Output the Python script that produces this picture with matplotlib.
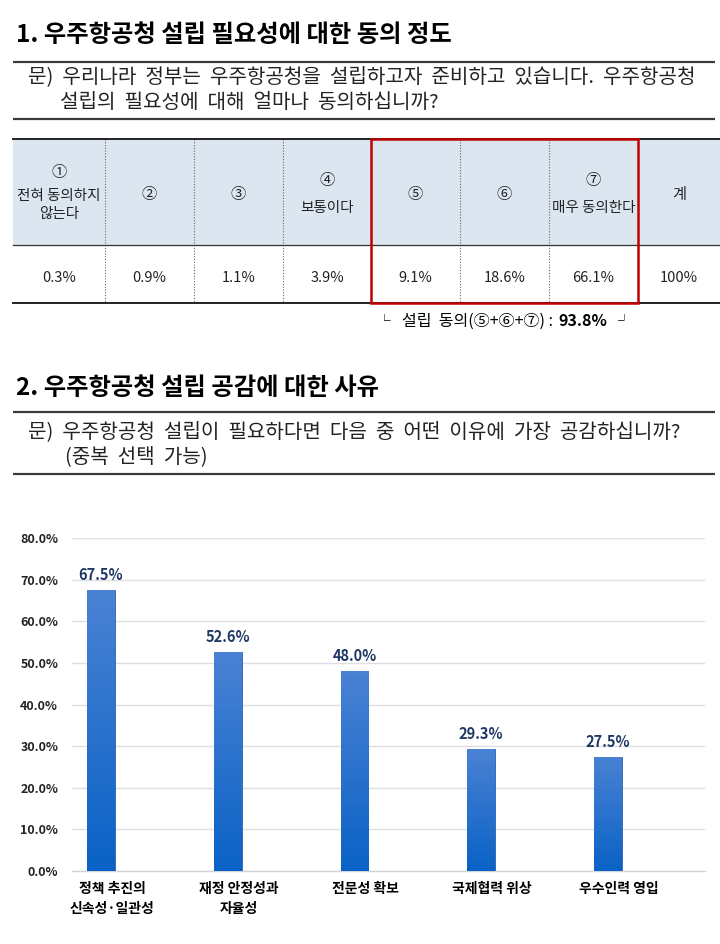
import numpy as np
import matplotlib
matplotlib.use("Agg")
import matplotlib.pyplot as plt
from matplotlib.patches import Rectangle
from matplotlib.colors import LinearSegmentedColormap

plt.rcParams['font.family'] = ['Noto Sans CJK KR', 'DejaVu Sans']

# 1. agreement scale table
scale_marks = ['①', '②', '③', '④', '⑤', '⑥', '⑦', '계']
scale_names = ['전혀 동의하지\n않는다', '', '', '보통이다', '', '', '매우 동의한다', '']
scale_values = [0.3, 0.9, 1.1, 3.9, 9.1, 18.6, 66.1, 100]
agree_total = round(sum(scale_values[4:7]), 1)

# 2. reasons (multiple choice)
reasons = ['정책 추진의\n신속성·일관성', '재정 안정성과\n자율성', '전문성 확보',
           '국제협력 위상', '우수인력 영입']
reason_values = [67.5, 52.6, 48.0, 29.3, 27.5]
y_ticks = [0, 10, 20, 30, 40, 50, 60, 70, 80]

fig = plt.figure(figsize=(7.2, 9.44), dpi=100)
fig.patch.set_facecolor('white')

# document layer in pixel coordinates
doc = fig.add_axes([0, 0, 1, 1])
doc.set_xlim(0, 720)
doc.set_ylim(944, 0)
doc.axis('off')


def rule(y):
    doc.plot([13, 715], [y, y], color='#3a3a3a', lw=1.6, solid_capstyle='butt')


def wide(s):
    # the source document uses wide word spacing
    return s.replace(' ', '  ')


# section 1 header
doc.text(16, 35, '1. 우주항공청 설립 필요성에 대한 동의 정도', fontsize=17.5,
         fontweight='bold', va='center')
rule(62)
doc.text(28, 77, wide('문) 우리나라 정부는 우주항공청을 설립하고자 준비하고 있습니다. 우주항공청'),
         fontsize=14.5, va='center', color='#222222')
doc.text(60, 102, wide('설립의 필요성에 대해 얼마나 동의하십니까?'),
         fontsize=14.5, va='center', color='#222222')
rule(119)

# table
col_edges = [13, 105, 194, 283, 371, 460, 549, 638, 720]
top, mid, bot = 139, 245, 303
doc.add_patch(Rectangle((13, top), 720 - 13, mid - top, facecolor='#dce6f1',
                        edgecolor='none'))
for x in col_edges[1:-1]:
    doc.plot([x, x], [top, bot], color='#666666', lw=0.8, ls=(0, (1, 1.5)))
doc.plot([13, 720], [top, top], color='#222222', lw=1.4)
doc.plot([13, 720], [mid, mid], color='#333333', lw=0.9)
doc.plot([13, 720], [bot, bot], color='#222222', lw=1.4)

for i, (mark, name, val) in enumerate(zip(scale_marks, scale_names, scale_values)):
    cx = (col_edges[i] + col_edges[i + 1]) / 2
    lines = name.split('\n') if name else []
    if len(lines) == 2:
        ys = [172, 196, 214]
    elif len(lines) == 1:
        ys = [181, 208]
    else:
        ys = [194]
    doc.text(cx, ys[0], mark, fontsize=11, ha='center', va='center', color='#222222')
    for ln, yy in zip(lines, ys[1:]):
        doc.text(cx, yy, ln, fontsize=10.5, ha='center', va='center', color='#222222')
    doc.text(cx, 278, f'{val:g}%', fontsize=10.5, ha='center', va='center', color='#222222')

doc.add_patch(Rectangle((371, top), 638 - 371, bot - top, fill=False,
                        edgecolor='#c00000', lw=1.8, zorder=5))

# sum of agreement, chained pieces
t0 = doc.text(378, 321, '└', fontsize=9, ha='left', va='center')
t1 = doc.annotate('설립  동의(⑤+⑥+⑦) :', xy=(1, 0.5), xycoords=t0, xytext=(8, 0),
                  textcoords='offset points', fontsize=11.5, ha='left', va='center')
t2 = doc.annotate(f'{agree_total}%', xy=(1, 0.5), xycoords=t1, xytext=(4, 0),
                  textcoords='offset points', fontsize=11.5, fontweight='bold',
                  ha='left', va='center')
doc.annotate('┘', xy=(1, 0.5), xycoords=t2, xytext=(8, 0), textcoords='offset points',
             fontsize=9, ha='left', va='center')

# section 2 header
doc.text(16, 388, '2. 우주항공청 설립 공감에 대한 사유', fontsize=17.5,
         fontweight='bold', va='center')
rule(412)
doc.text(28, 432, wide('문) 우주항공청 설립이 필요하다면 다음 중 어떤 이유에 가장 공감하십니까?'),
         fontsize=14.5, va='center', color='#222222')
doc.text(65, 457, wide('(중복 선택 가능)'), fontsize=14.5, va='center', color='#222222')
rule(474)

# bar chart
ax = fig.add_axes([72 / 720, 1 - 871 / 944, 633 / 720, 333 / 944])
x = np.arange(len(reasons))
width = 0.22
bars = ax.bar(x, reason_values, width=width, color='#1d6fd2', edgecolor='#2a62b0',
              lw=0.6, zorder=3)

grad_cmap = LinearSegmentedColormap.from_list('bar', ['#0a62c6', '#4a82d4'])
grad = np.linspace(0, 1, 256).reshape(-1, 1)
for rect in bars:
    x0 = rect.get_x()
    im = ax.imshow(grad, extent=[x0, x0 + rect.get_width(), 0, rect.get_height()],
                   origin='lower', aspect='auto', cmap=grad_cmap, zorder=3.5)
    im.set_clip_path(rect)

for xi, v in zip(x, reason_values):
    ax.annotate(f'{v:.1f}%', (xi, v), xytext=(0, 5), textcoords='offset points',
                ha='center', va='bottom', fontsize=10.5, fontweight='bold',
                color='#1f3864')

ax.set_xlim(-0.229, 4.765)
ax.set_ylim(0, 80)
ax.set_yticks(y_ticks)
ax.set_yticklabels([f'{t:.1f}%' for t in y_ticks], fontsize=9, fontweight='bold',
                   color='#222222')
# category labels sit a little right of the bars in the source
ax.set_xticks(x + 0.087)
ax.set_xticklabels(reasons, fontsize=10, fontweight='bold', linespacing=1.55,
                   va='top')
ax.tick_params(axis='both', length=0)
ax.tick_params(axis='y', pad=10)
ax.tick_params(axis='x', pad=8)
ax.grid(axis='y', color='#dcdfe4', lw=1.0, zorder=0)
ax.set_axisbelow(True)
for s in ['top', 'right', 'left']:
    ax.spines[s].set_visible(False)
ax.spines['bottom'].set_color('#d0d3d8')
ax.spines['bottom'].set_linewidth(1.0)
ax.patch.set_alpha(0)

fig.savefig('out.png', dpi=100)
